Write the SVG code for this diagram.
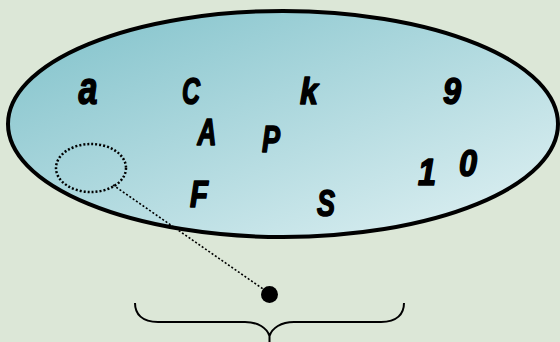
<svg xmlns="http://www.w3.org/2000/svg" width="560" height="342" viewBox="0 0 560 342">
  <defs>
    <linearGradient id="setFill" x1="0" y1="0" x2="1" y2="1">
      <stop offset="0" stop-color="#7fc1ca"/>
      <stop offset="1" stop-color="#e2f2f4"/>
    </linearGradient>
    <style>
      .el { font-family: "Liberation Sans", Arial, sans-serif; font-weight: bold; font-style: italic; font-size: 36px; fill: #000; stroke: #000; stroke-width: 1.6; stroke-linejoin: round; text-anchor: middle; }
      .dots { fill: none; stroke: #000; stroke-dasharray: 2 2; }
    </style>
  </defs>

  <rect width="560" height="342" fill="#dce7d7"/>

  <!-- the set -->
  <g id="set">
    <ellipse cx="283" cy="124" rx="275" ry="113" fill="url(#setFill)" stroke="#000" stroke-width="4"/>
  </g>

  <!-- elements of the set -->
  <g id="elements">
    <text class="el" x="88" y="104" style="font-size:46px" textLength="19" lengthAdjust="spacingAndGlyphs">a</text>
    <text class="el" x="191" y="104" textLength="18" lengthAdjust="spacingAndGlyphs">C</text>
    <text class="el" x="309" y="104" textLength="18" lengthAdjust="spacingAndGlyphs">k</text>
    <text class="el" x="452" y="104" textLength="18" lengthAdjust="spacingAndGlyphs">9</text>
    <text class="el" x="207" y="145" textLength="19" lengthAdjust="spacingAndGlyphs">A</text>
    <text class="el" x="271" y="152" textLength="18" lengthAdjust="spacingAndGlyphs">P</text>
    <text class="el" x="427" y="185" textLength="18" lengthAdjust="spacingAndGlyphs">1</text>
    <text class="el" x="468" y="176" textLength="18" lengthAdjust="spacingAndGlyphs">0</text>
    <text class="el" x="199" y="207" textLength="18" lengthAdjust="spacingAndGlyphs">F</text>
    <text class="el" x="326" y="216" textLength="18" lengthAdjust="spacingAndGlyphs">S</text>
  </g>

  <!-- highlighted subset and its pointer -->
  <g id="subset">
    <ellipse class="dots" cx="91" cy="168" rx="35" ry="24" stroke-width="2.5" stroke-dasharray="2.5 2.5"/>
  </g>
  <g id="connectors">
    <line class="dots" x1="113" y1="185" x2="266" y2="291" stroke-width="1.6"/>
  </g>
  <g id="point">
    <circle cx="269.5" cy="294.5" r="8.5" fill="#000"/>
  </g>

  <!-- brace below -->
  <g id="brace">
    <path d="M135 303 C135 314 142 322 158 322 L245 322 C258 322 267 328 269.5 336 L269.5 342 M269.5 336 C272 328 281 322 294 322 L381 322 C397 322 404 314 404 303" fill="none" stroke="#000" stroke-width="2"/>
  </g>
</svg>
